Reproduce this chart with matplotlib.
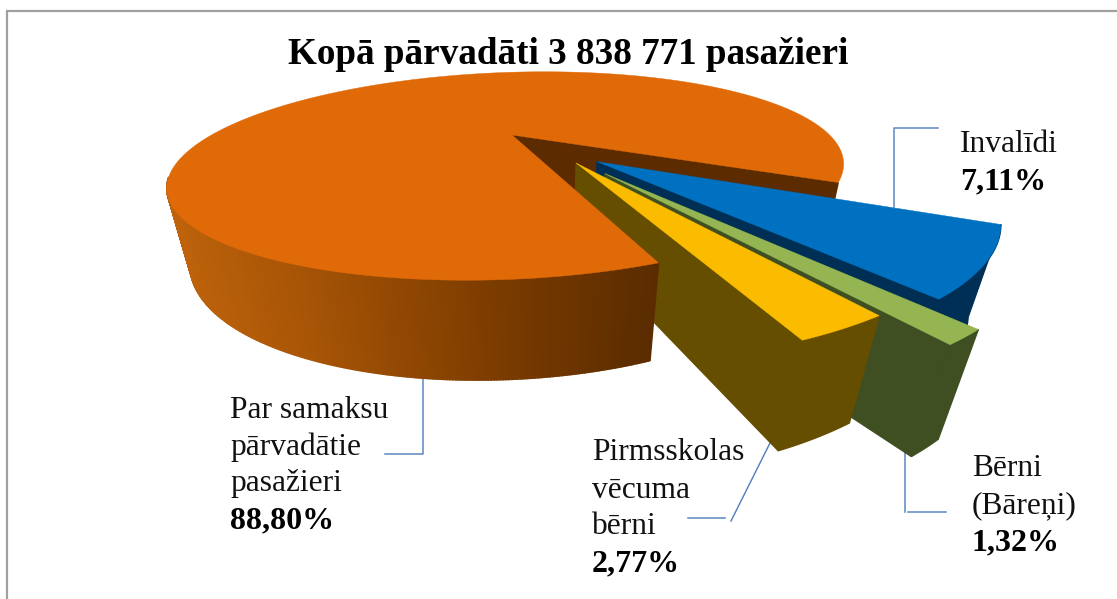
import numpy as np
import matplotlib
matplotlib.use('Agg')
import matplotlib.pyplot as plt
from matplotlib.colors import LinearSegmentedColormap
from matplotlib.patches import Polygon

# --- data ---
title = 'Kopā pārvadāti 3 838 771 pasažieri'
labels = ['Invalīdi', 'Bērni\n(Bāreņi)', 'Pirmsskolas\nvēcuma\nbērni', 'Par samaksu\npārvadātie\npasažieri']
percents = [7.11, 1.32, 2.77, 88.80]
percent_labels = ['7,11%', '1,32%', '2,77%', '88,80%']

# --- look of the slices ---
explode = [0.385, 0.476, 0.355, 0.0]
explode_dir = [-46.5, -53.5, -54.7, 0.0]
top_colors = ['#0070C0', '#94B552', '#FBBC00', '#E06A08']
wall_colors = ['#002F55', '#3F4F22', '#664E00', '#5C2B00']
start_angle = -28.0

# --- projection of the pie plane to pixels, fitted by eye ---
CX, CY = 512, 135
A, B, S, T = 310.0, 88.0, 24.0, 3.5
K, M = 0.394, -0.012
VPX, VPY = 550, 1500
Q = 0.054

plt.rcParams['font.family'] = ['Liberation Serif', 'DejaVu Serif']


def project(X, Y):
    w = 1 + K * Y + M * X
    return CX + (A * X + S * Y) / w, CY - (B * Y + T * X) / w, w


def top_point(X, Y):
    px, py, _ = project(X, Y)
    return np.column_stack([px, py])


def bottom_point(X, Y):
    px, py, w = project(X, Y)
    s = Q / (w + Q)
    return np.column_stack([px + s * (VPX - px), py + s * (VPY - py)])


def arc(t1, t2, off, n=800):
    t = np.radians(np.linspace(t1, t2, n))
    return np.cos(t) + off[0], np.sin(t) + off[1]


def side_face(ax, angle, off, color, z):
    t = np.radians(angle)
    X = np.array([off[0], np.cos(t) + off[0]])
    Y = np.array([off[1], np.sin(t) + off[1]])
    pts = np.vstack([top_point(X, Y), bottom_point(X, Y)[::-1]])
    ax.add_patch(Polygon(pts, closed=True, fc=color, ec=color, lw=1.0, zorder=z))


fig = plt.figure(figsize=(11.17, 5.99), dpi=100)
ax = fig.add_axes([0, 0, 1, 1])
ax.set_xlim(0, 1117)
ax.set_ylim(599, 0)
ax.axis('off')

# chart border
ax.plot([7, 7], [599, 11], color='#A0A0A0', lw=1.6, zorder=1, solid_capstyle='butt')
ax.plot([6, 1117], [11, 11], color='#A0A0A0', lw=1.6, zorder=1, solid_capstyle='butt')

# angle limits of every slice, clockwise from the start angle
edges = start_angle - np.cumsum([0] + percents) * 3.6

# brown cut face of the big slice is behind everything
side_face(ax, edges[0], (0, 0), wall_colors[3], 2)

orange_wall = LinearSegmentedColormap.from_list(
    'wall', [(0.0, '#C0640C'), (0.3, '#A65406'), (0.65, '#7E3D00'), (1.0, '#5A2C00')])

z = 3
for i in range(4):
    t1, t2 = edges[i], edges[i + 1]
    d = np.radians(explode_dir[i])
    off = (explode[i] * np.cos(d), explode[i] * np.sin(d))
    X, Y = arc(t1, t2, off)
    top = top_point(X, Y)
    apex = top_point(np.array([off[0]]), np.array([off[1]]))
    if i < 3:
        # outer wall in one colour, then the cut face on the near side
        bot = bottom_point(X, Y)
        ax.add_patch(Polygon(np.vstack([top, bot[::-1]]), closed=True,
                             fc=wall_colors[i], ec=wall_colors[i], lw=1.0, zorder=z))
        side_face(ax, t2, off, wall_colors[i], z)
    else:
        # big slice: only the front part of the wall can be seen, shaded left to right
        Xw, Yw = arc(t1, -158, off, n=250)
        top_w = top_point(Xw, Yw)
        bot_w = bottom_point(Xw, Yw)
        for j in range(len(Xw) - 1):
            quad = np.array([top_w[j], top_w[j + 1], bot_w[j + 1], bot_w[j]])
            c = orange_wall(np.clip((quad[:, 0].mean() - 165) / (655 - 165), 0, 1))
            ax.add_patch(Polygon(quad, closed=True, fc=c, ec=c, lw=1.2, zorder=z))
    ax.add_patch(Polygon(np.vstack([apex, top]), closed=True,
                         fc=top_colors[i], ec=top_colors[i], lw=0.3, zorder=z + 1))
    z += 2

# leader lines
line_c = '#5B87BE'
ax.plot([938, 894, 894], [128, 128, 208], color=line_c, lw=1.1, zorder=12)
ax.plot([905, 905], [450, 512], color=line_c, lw=1.1, zorder=2)
ax.plot([908, 946], [512, 512], color=line_c, lw=1.1, zorder=12)
ax.plot([771, 731], [441, 521], color=line_c, lw=1.1, zorder=2)
ax.plot([688, 725], [518, 518], color=line_c, lw=1.1, zorder=12)
ax.plot([385, 423, 423], [454, 454, 376], color=line_c, lw=1.1, zorder=2)

# texts
ax.text(568, 55, title, fontsize=26.7, fontweight='bold', ha='center', va='center', color='black', zorder=20)

label_x = [960, 972, 592, 230]
label_y = [145, 469, 453, 410]
line_h = 37
for i in range(4):
    y = label_y[i]
    for part in labels[i].split('\n'):
        ax.text(label_x[i], y, part, fontsize=22.7, ha='left', va='center', color='#111111', zorder=20)
        y += line_h
    ax.text(label_x[i], y, percent_labels[i], fontsize=23, fontweight='bold', ha='left', va='center',
            color='black', zorder=20)

fig.savefig('out.png', dpi=100)
